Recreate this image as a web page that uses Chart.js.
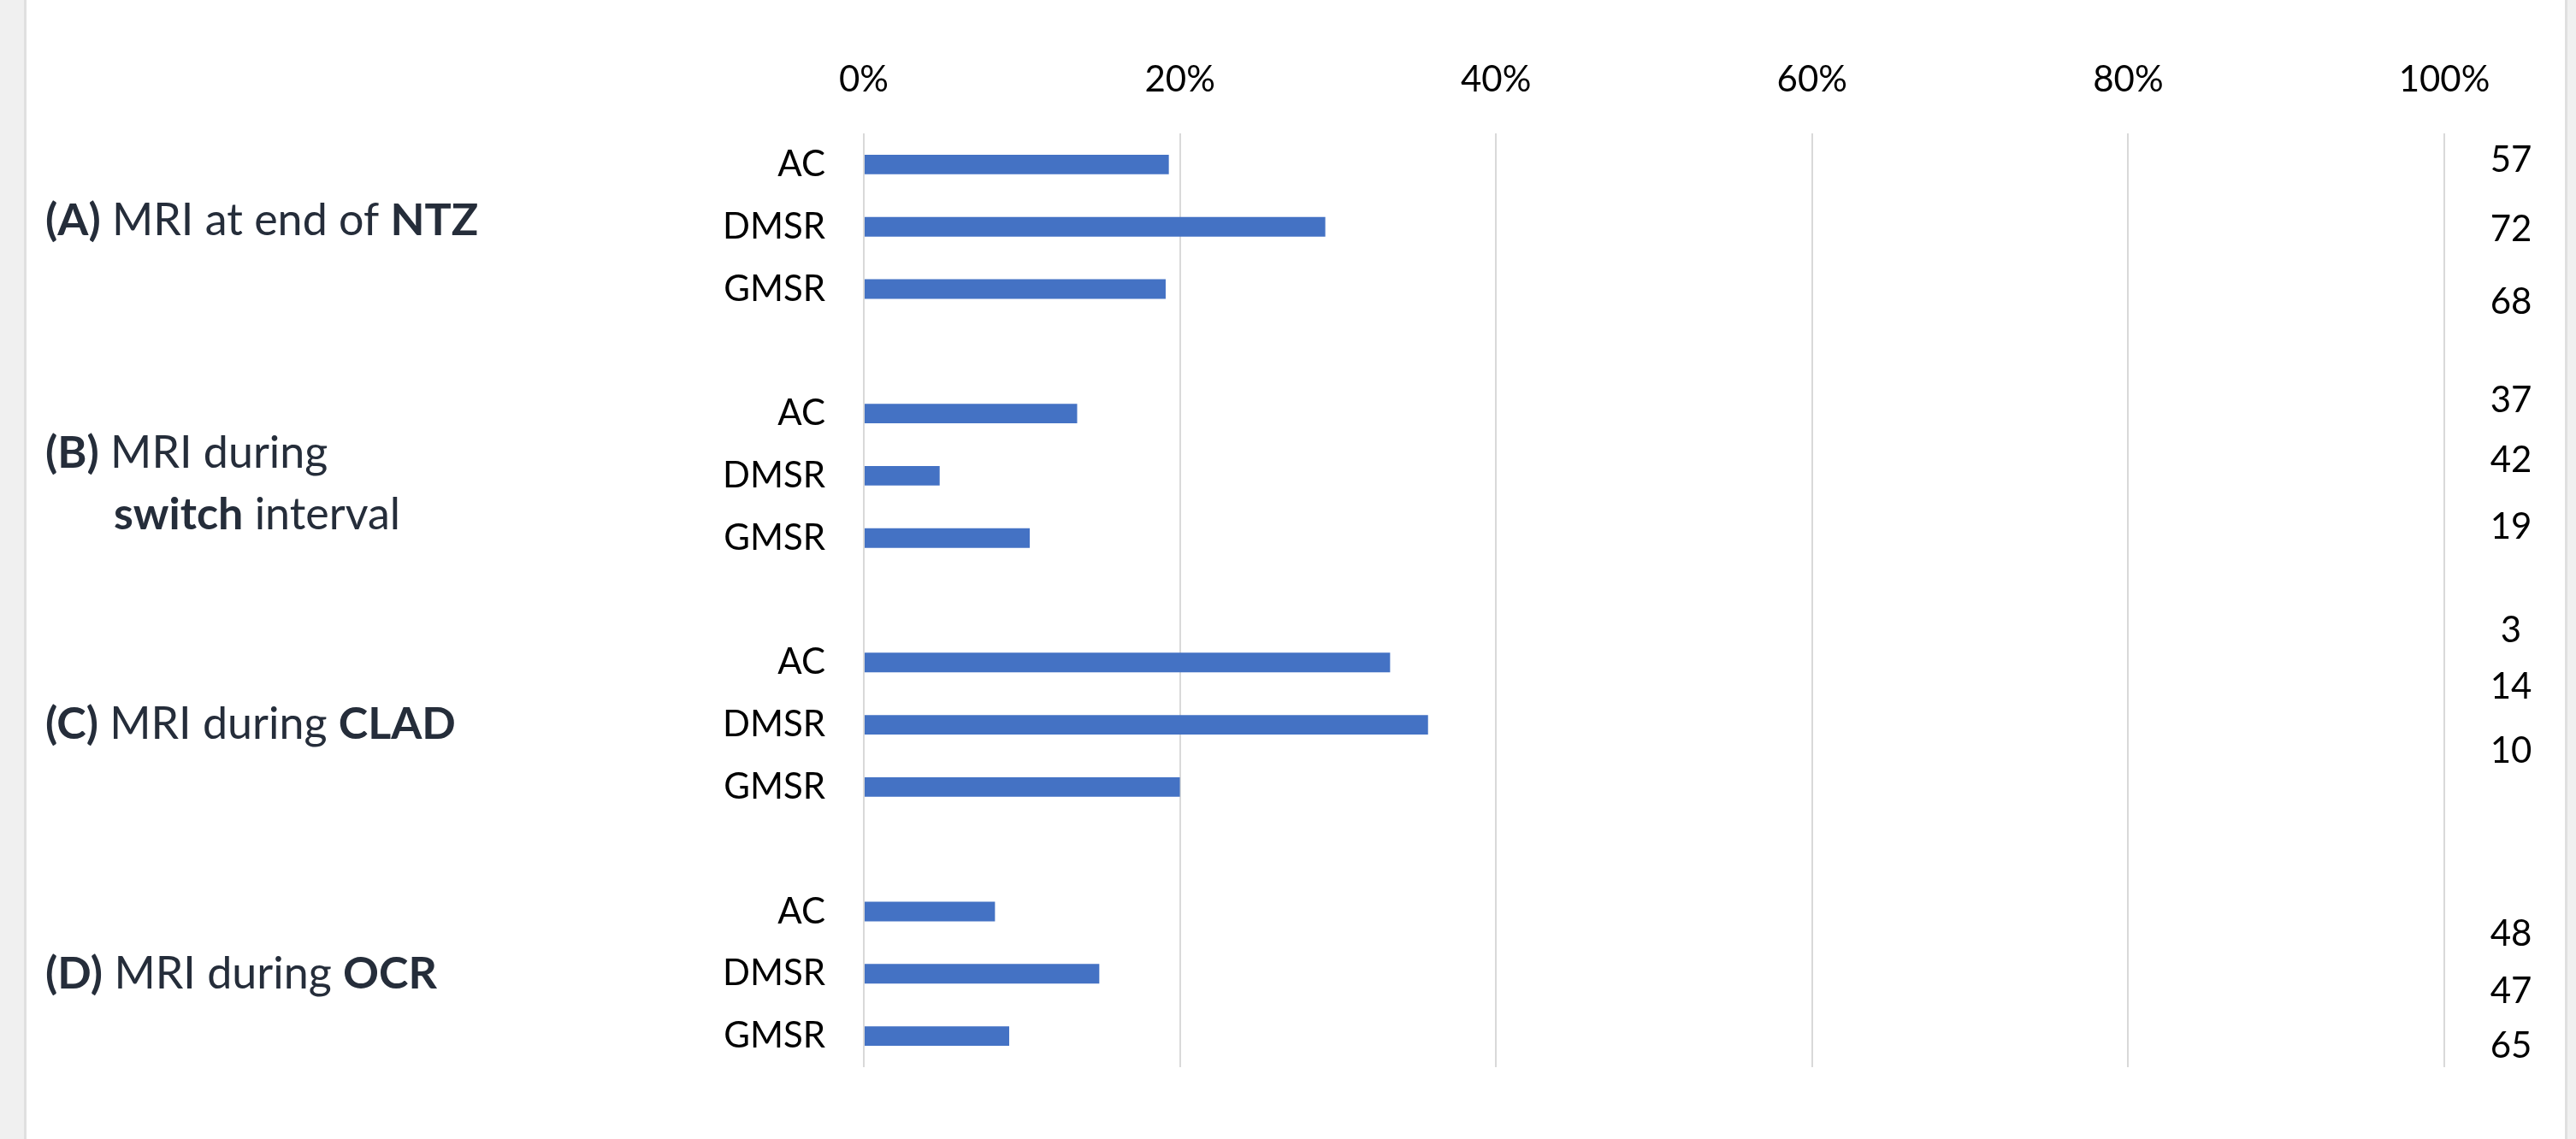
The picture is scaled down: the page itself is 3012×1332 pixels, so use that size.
<!DOCTYPE html>
<html>
<head>
<meta charset="utf-8">
<title>MRI by phase</title>
<script src="https://cdn.jsdelivr.net/npm/chart.js@4.4.1/dist/chart.umd.min.js"></script>
<style>
  html, body { margin: 0; padding: 0; background: #f0f0f0; overflow: hidden; }
  #sheet {
    position: absolute; left: 28px; top: 0; width: 2974px; height: 1332px;
    background: #fff; border-left: 3px solid #e0e0e0; border-right: 3px solid #e0e0e0;
    box-sizing: border-box;
  }
  #wrap { position: absolute; left: 0; top: 0; width: 3012px; height: 1332px; }
</style>
</head>
<body>
<div id="sheet"></div>
<div id="wrap"><canvas id="mriChart"></canvas></div>
<script>
// filas del eje y (las vacías separan los grupos)
const categories = ['AC', 'DMSR', 'GMSR', '', 'AC', 'DMSR', 'GMSR', '', 'AC', 'DMSR', 'GMSR', '', 'AC', 'DMSR', 'GMSR'];
// porcentaje de cada barra
const pctValues = [19.3, 29.2, 19.1, null, 13.5, 4.8, 10.5, null, 33.3, 35.7, 20.0, null, 8.3, 14.9, 9.2];
// n a la derecha del gráfico, por grupo
const nValues = [57, 72, 68, 37, 42, 19, 3, 14, 10, 48, 47, 65];
const xTicks = [0, 20, 40, 60, 80, 100];

// textos de los grupos: [texto, negrita]
const groupLabels = [
    [[['(A)', true], [' MRI at end of ', false], ['NTZ', true]]],
    [[['(B)', true], [' MRI during', false]], [['switch', true], [' interval', false]]],
    [[['(C)', true], [' MRI during ', false], ['CLAD', true]]],
    [[['(D)', true], [' MRI during ', false], ['OCR', true]]]
];

// ajustes de posición (en filas)
const groupRowShift = [-0.1, 0.14, 0, 0];
const nRowShift = [-0.07, 0.04, 0.21, -0.21, -0.24, -0.17, -0.51, -0.60, -0.57, 0.36, 0.28, 0.16];

const FONT = 'Lato';
const tickFont = { family: FONT, size: 42 };

// Dibuja los nombres de grupo a la izquierda
const groupLabelPlugin = {
    id: 'groupLabels',
    afterDraw(chart) {
        const ctx = chart.ctx;
        const yScale = chart.scales.y;
        ctx.save();
        ctx.fillStyle = '#252d3a';
        ctx.textBaseline = 'middle';
        ctx.textAlign = 'left';
        groupLabels.forEach((lines, g) => {
            const yMid = yScale.getPixelForValue(g * 4 + 1 + groupRowShift[g]);
            const lineH = 72;
            lines.forEach((segs, li) => {
                let x = li === 0 ? 53 : 133;
                const y = yMid - (lines.length - 1) * lineH / 2 + li * lineH;
                segs.forEach(([txt, bold]) => {
                    ctx.font = (bold ? 'bold ' : '') + '52px ' + FONT;
                    ctx.fillText(txt, x, y);
                    x += ctx.measureText(txt).width;
                });
            });
        });
        ctx.restore();
    }
};

// Dibuja los n a la derecha
const nValuePlugin = {
    id: 'nValues',
    afterDraw(chart) {
        const ctx = chart.ctx;
        const yScale = chart.scales.y;
        const barRows = [];
        categories.forEach((c, i) => { if (c !== '') barRows.push(i); });
        ctx.save();
        ctx.fillStyle = '#000';
        ctx.font = '42px ' + FONT;
        ctx.textAlign = 'center';
        ctx.textBaseline = 'middle';
        nValues.forEach((n, i) => {
            const y = yScale.getPixelForValue(barRows[i] + nRowShift[i]);
            ctx.fillText(String(n), chart.chartArea.right + 78, y);
        });
        ctx.restore();
    }
};

const ctx = document.getElementById('mriChart').getContext('2d');
const mriChart = new Chart(ctx, {
    type: 'bar',
    data: {
        labels: categories,
        datasets: [{
            data: pctValues,
            backgroundColor: '#4472c4',
            borderWidth: 0,
            categoryPercentage: 1,
            barPercentage: 0.315
        }]
    },
    options: {
        indexAxis: 'y',
        responsive: true,
        maintainAspectRatio: false,
        animation: false,
        layout: { padding: { left: 0, right: 154, top: 0, bottom: 84 } },
        plugins: {
            legend: { display: false },
            tooltip: { enabled: false }
        },
        scales: {
            x: {
                position: 'top',
                min: 0,
                max: 100,
                afterBuildTicks: scale => { scale.ticks = xTicks.map(v => ({ value: v })); },
                afterFit: scale => { scale.height = 156; },
                grid: { color: '#d9d9d9', lineWidth: 2, drawTicks: false },
                border: { display: false },
                ticks: {
                    font: tickFont,
                    color: '#000',
                    padding: 37,
                    maxRotation: 0,
                    callback: v => v + '%'
                }
            },
            y: {
                afterFit: scale => { scale.width = 1010; },
                grid: { display: false, drawTicks: false },
                border: { display: false },
                ticks: {
                    font: tickFont,
                    color: '#000',
                    padding: 45,
                    autoSkip: false
                }
            }
        }
    },
    plugins: [groupLabelPlugin, nValuePlugin]
});
</script>
</body>
</html>
